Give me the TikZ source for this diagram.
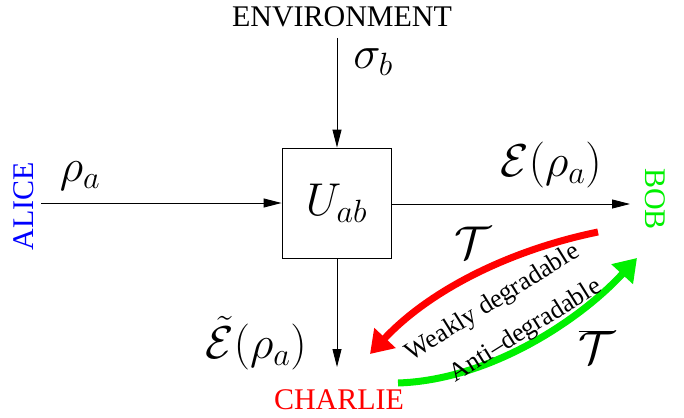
\RequirePackage{fix-cm}
\documentclass[tikz,border=0pt]{standalone}
\usepackage{fontspec}
\setmainfont{Liberation Serif}
\usetikzlibrary{arrows.meta}
\definecolor{gr}{RGB}{0,240,0}
\begin{document}
\begin{tikzpicture}[x=1pt,y=-1pt,
  lbl/.style={font=\fontsize{30}{34}\selectfont,inner sep=0pt},
  mth/.style={font=\fontsize{46}{52}\selectfont,inner sep=0pt},
  rot/.style={font=\fontsize{26}{30}\selectfont,inner sep=0pt},
  thin/.style={line width=0.9pt,-{Triangle[length=18pt,width=9pt]}},
  fat/.style={line width=7pt,-{Triangle[length=22pt,width=28pt]}}]
\useasboundingbox (0,0) rectangle (684,417);
\node[draw,line width=0.9pt,minimum width=109pt,minimum height=110pt,inner sep=0pt] (U) at (336.5,203) {};
\node[mth] at (U.center) {$U_{ab}$};
\node[lbl] (env) at (342,17) {ENVIRONMENT};
\coordinate (envb) at (337,38);
\node[lbl,blue,rotate=90] (alice) at (24,206) {ALICE};
\node[lbl,gr,rotate=-90] (bob) at (655,199) {BOB};
\node[lbl,red] (charlie) at (339,400) {CHARLIE};
\coordinate (ain) at (41,203);
\coordinate (bout) at (630,204);
\coordinate (cout) at (337,367);
\draw[thin] (envb) -- (U.north -| envb);
\draw[thin] (ain) -- (U.west |- ain);
\draw[thin] (U.east |- bout) -- (bout);
\draw[thin] (U.south -| cout) -- (cout);
\node[mth] (sig) at (373,62) {$\sigma_b$};
\node[mth] (rho) at (80,176) {$\rho_a$};
\node[mth] (eps) at (551,165) {$\mathcal{E}(\rho_a)$};
\node[mth] (teps) at (256,343) {$\tilde{\mathcal{E}}(\rho_a)$};
\coordinate (rs) at (598,232);
\coordinate (re) at (370,354);
\coordinate (gs) at (398,383);
\coordinate (ge) at (637,258);
\draw[fat,red] (rs) .. controls (510,250) and (430,290) .. (re);
\draw[fat,gr] (gs) .. controls (490,380) and (580,320) .. (ge);
\node[mth] (T) at (473,243) {$\mathcal{T}$};
\node[mth] (Tb) at (597,347) {$\overline{\mathcal{T}}$};
\node[rot,rotate=32] (wd) at (493,303) {Weakly degradable};
\node[rot,rotate=32] (ad) at (526,331) {Anti–degradable};
\end{tikzpicture}
\end{document}
